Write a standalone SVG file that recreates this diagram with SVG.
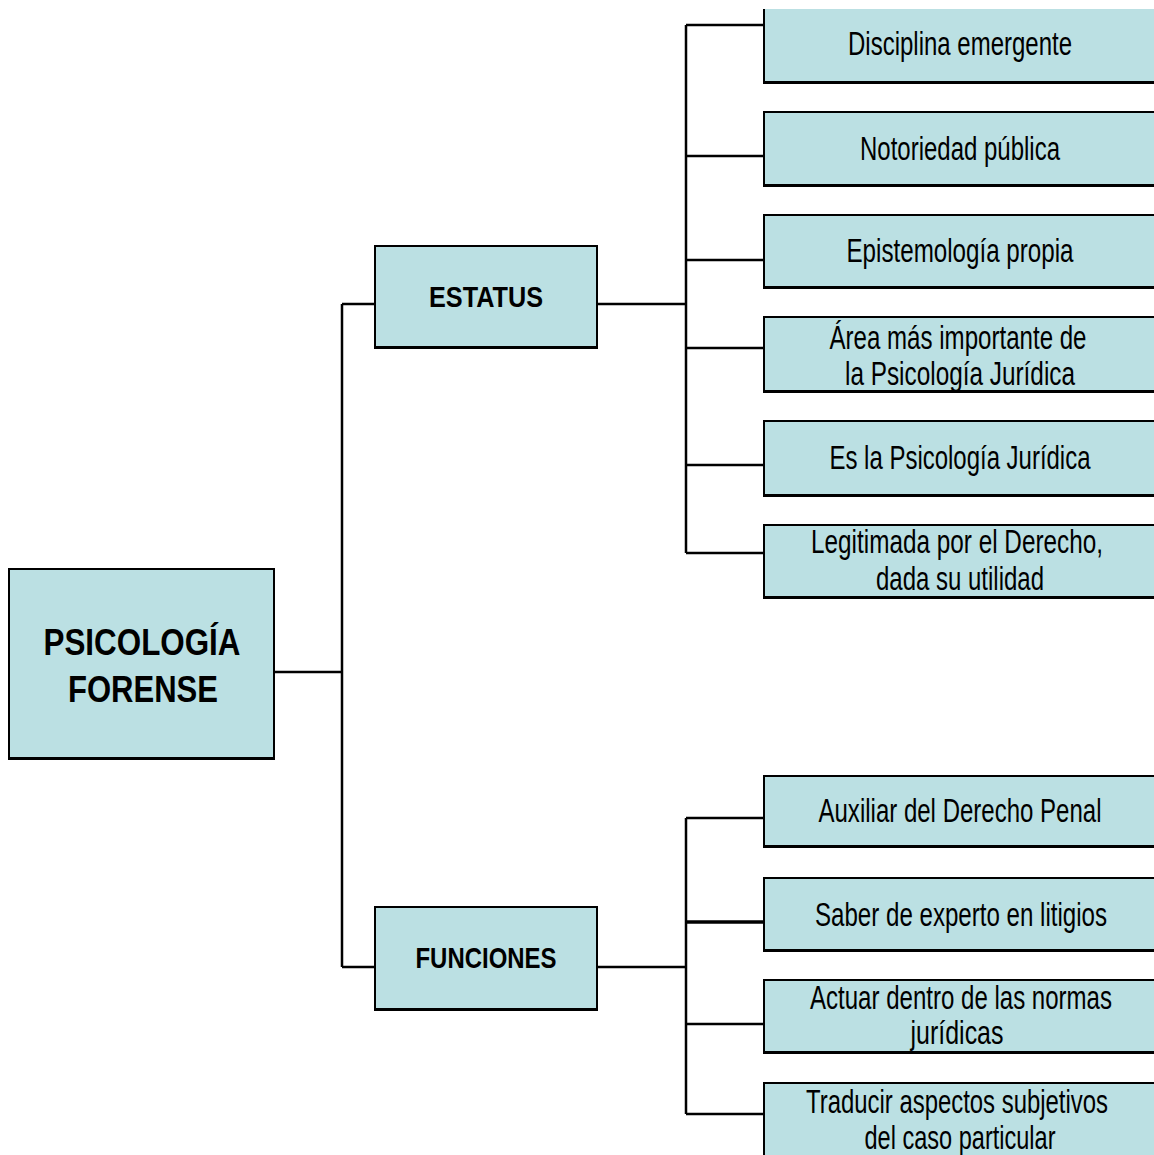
<svg xmlns="http://www.w3.org/2000/svg" width="1154" height="1155" viewBox="0 0 1154 1155">
<style>
.bg{fill:#FFFFFF}
.fill{fill:#BBE0E3;stroke:none}
.edge{fill:none;stroke:#000;stroke-width:2}
.thick{fill:none;stroke:#000;stroke-width:3}
.conn{fill:none;stroke:#000;stroke-width:2.5}
.t{font-family:"Liberation Sans",Arial,sans-serif;font-size:34px;fill:#000;text-anchor:middle}
.b{font-family:"Liberation Sans",Arial,sans-serif;font-weight:bold;fill:#000;text-anchor:middle}
</style>
<rect class="bg" x="0" y="0" width="1154" height="1155"/>
<g id="connectors">
<path class="conn" d="M274,672 H342 M342,304 V967 M342,304 H375 M342,967 H375"/>
<path class="conn" d="M597,304 H686 M686,25 V553 M686,25 H764 M686,156 H764 M686,260 H764 M686,348 H764 M686,465 H764 M686,553 H764"/>
<path class="conn" d="M597,967 H686 M686,818 V1114 M686,818 H764 M686,1024 H764 M686,1114 H764"/>
<path class="conn" d="M686,922 H764" style="stroke-width:3.5"/>
</g>
<g id="node-psicologia">
<rect class="fill" x="9" y="569" width="265" height="190"/>
<path class="edge" d="M9,758 V569 H274 V758"/>
<path class="thick" d="M8,758.5 H275"/>
<text class="b" x="142" y="655" font-size="37" textLength="197" lengthAdjust="spacingAndGlyphs">PSICOLOGÍA</text>
<text class="b" x="143" y="702" font-size="37" textLength="150" lengthAdjust="spacingAndGlyphs">FORENSE</text>
</g>
<g id="node-estatus">
<rect class="fill" x="375" y="246" width="222" height="102"/>
<path class="edge" d="M375,347 V246 H597 V347"/>
<path class="thick" d="M374,347.5 H598"/>
<text class="b" x="486" y="307" font-size="30" textLength="114" lengthAdjust="spacingAndGlyphs">ESTATUS</text>
</g>
<g id="node-funciones">
<rect class="fill" x="375" y="907" width="222" height="103"/>
<path class="edge" d="M375,1009 V907 H597 V1009"/>
<path class="thick" d="M374,1009.5 H598"/>
<text class="b" x="486" y="968" font-size="30" textLength="141" lengthAdjust="spacingAndGlyphs">FUNCIONES</text>
</g>
<g id="leaf-disciplina">
<rect class="fill" x="764" y="9" width="390" height="74"/>
<path class="edge" d="M764,9 V82"/>
<path class="thick" d="M763,82.5 H1154"/>
<text class="t" x="960" y="55" textLength="224" lengthAdjust="spacingAndGlyphs">Disciplina emergente</text>
</g>
<g id="leaf-notoriedad">
<rect class="fill" x="764" y="112" width="390" height="74"/>
<path class="edge" d="M1154,112 H764 V185"/>
<path class="thick" d="M763,185.5 H1154"/>
<text class="t" x="960" y="160" textLength="200" lengthAdjust="spacingAndGlyphs">Notoriedad pública</text>
</g>
<g id="leaf-epistemologia">
<rect class="fill" x="764" y="215" width="390" height="73"/>
<path class="edge" d="M1154,215 H764 V287"/>
<path class="thick" d="M763,287.5 H1154"/>
<text class="t" x="960" y="262" textLength="227" lengthAdjust="spacingAndGlyphs">Epistemología propia</text>
</g>
<g id="leaf-area">
<rect class="fill" x="764" y="317" width="390" height="75"/>
<path class="edge" d="M1154,317 H764 V391"/>
<path class="thick" d="M763,391.5 H1154"/>
<text class="t" x="958" y="349" textLength="257" lengthAdjust="spacingAndGlyphs">Área más importante de</text>
<text class="t" x="960" y="385" textLength="230" lengthAdjust="spacingAndGlyphs">la Psicología Jurídica</text>
</g>
<g id="leaf-esla">
<rect class="fill" x="764" y="421" width="390" height="75"/>
<path class="edge" d="M1154,421 H764 V495"/>
<path class="thick" d="M763,495.5 H1154"/>
<text class="t" x="960" y="469" textLength="261" lengthAdjust="spacingAndGlyphs">Es la Psicología Jurídica</text>
</g>
<g id="leaf-legitimada">
<rect class="fill" x="764" y="525" width="390" height="73"/>
<path class="edge" d="M1154,525 H764 V597"/>
<path class="thick" d="M763,597.5 H1154"/>
<text class="t" x="957" y="553" textLength="292" lengthAdjust="spacingAndGlyphs">Legitimada por el Derecho,</text>
<text class="t" x="960" y="590" textLength="168" lengthAdjust="spacingAndGlyphs">dada su utilidad</text>
</g>
<g id="leaf-auxiliar">
<rect class="fill" x="764" y="776" width="390" height="71"/>
<path class="edge" d="M1154,776 H764 V846"/>
<path class="thick" d="M763,846.5 H1154"/>
<text class="t" x="960" y="822" textLength="283" lengthAdjust="spacingAndGlyphs">Auxiliar del Derecho Penal</text>
</g>
<g id="leaf-saber">
<rect class="fill" x="764" y="878" width="390" height="73"/>
<path class="edge" d="M1154,878 H764 V950"/>
<path class="thick" d="M763,950.5 H1154"/>
<text class="t" x="961" y="926" textLength="292" lengthAdjust="spacingAndGlyphs">Saber de experto en litigios</text>
</g>
<g id="leaf-actuar">
<rect class="fill" x="764" y="980" width="390" height="73"/>
<path class="edge" d="M1154,980 H764 V1052"/>
<path class="thick" d="M763,1052.5 H1154"/>
<text class="t" x="961" y="1009" textLength="302" lengthAdjust="spacingAndGlyphs">Actuar dentro de las normas</text>
<text class="t" x="957" y="1044" textLength="93" lengthAdjust="spacingAndGlyphs">jurídicas</text>
</g>
<g id="leaf-traducir">
<rect class="fill" x="764" y="1083" width="390" height="72"/>
<path class="edge" d="M1154,1083 H764 V1155"/>
<text class="t" x="957" y="1113" textLength="302" lengthAdjust="spacingAndGlyphs">Traducir aspectos subjetivos</text>
<text class="t" x="960" y="1149" textLength="191" lengthAdjust="spacingAndGlyphs">del caso particular</text>
</g>
</svg>
